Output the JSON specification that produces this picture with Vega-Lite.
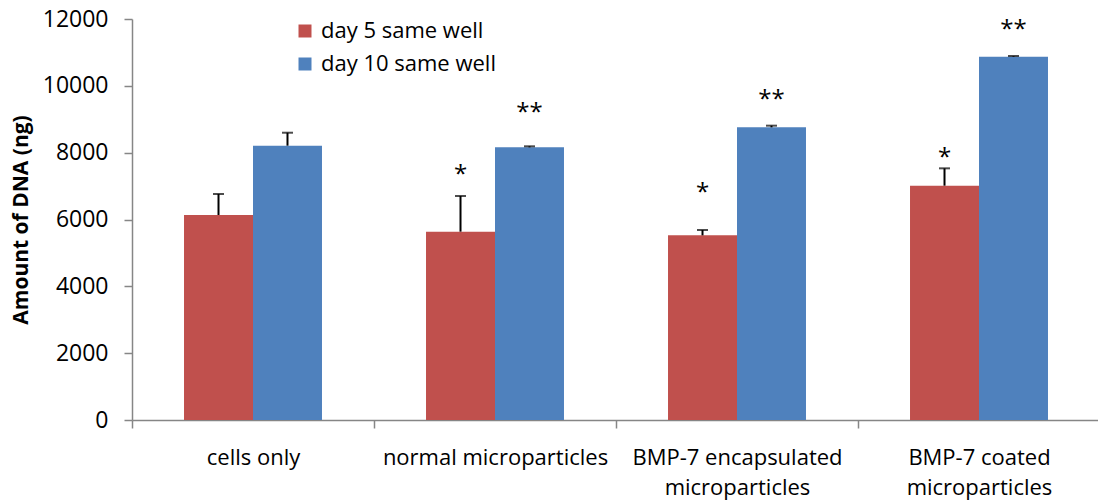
{
  "$schema": "https://vega.github.io/schema/vega-lite/v6.json",
  "width": 968,
  "height": 401,
  "autosize": "none",
  "padding": {"left": 132, "top": 19, "right": 0, "bottom": 80},
  "background": "white",
  "config": {"view": {"stroke": null}, "font": "Open Sans"},
  "data": {
    "values": [
      {"group": "cells only", "series": "day 5 same well", "value": 6135, "upper": 6763, "star": "", "starY": 0},
      {"group": "cells only", "series": "day 10 same well", "value": 8209, "upper": 8597, "star": "", "starY": 0},
      {"group": "normal microparticles", "series": "day 5 same well", "value": 5636, "upper": 6703, "star": "*", "starY": 7511},
      {"group": "normal microparticles", "series": "day 10 same well", "value": 8160, "upper": 8190, "star": "**", "starY": 9367},
      {"group": "BMP-7 encapsulated|microparticles", "series": "day 5 same well", "value": 5526, "upper": 5686, "star": "*", "starY": 6973},
      {"group": "BMP-7 encapsulated|microparticles", "series": "day 10 same well", "value": 8758, "upper": 8808, "star": "**", "starY": 9756},
      {"group": "BMP-7 coated|microparticles", "series": "day 5 same well", "value": 7012, "upper": 7531, "star": "*", "starY": 8020},
      {"group": "BMP-7 coated|microparticles", "series": "day 10 same well", "value": 10873, "upper": 10893, "star": "**", "starY": 11850}
    ]
  },
  "encoding": {
    "x": {
      "field": "group",
      "type": "nominal",
      "sort": ["cells only", "normal microparticles", "BMP-7 encapsulated|microparticles", "BMP-7 coated|microparticles"],
      "scale": {"paddingInner": 0, "paddingOuter": 0},
      "axis": {
        "title": null,
        "labelAngle": 0,
        "labelExpr": "split(datum.label, '|')",
        "labelFont": "Open Sans",
        "labelFontSize": 22,
        "labelLineHeight": 30,
        "labelColor": "#000000",
        "labelPadding": 19,
        "labelLimit": 400,
        "labelOverlap": false,
        "labelBound": false,
        "tickBand": "extent",
        "tickSize": 8,
        "tickColor": "#868686",
        "domainColor": "#868686",
        "domainWidth": 1.5,
        "tickWidth": 1.5,
        "grid": false
      }
    },
    "xOffset": {
      "field": "series",
      "type": "nominal",
      "sort": ["day 5 same well", "day 10 same well"],
      "scale": {"paddingInner": 0, "paddingOuter": 0.754}
    }
  },
  "layer": [
    {
      "mark": {"type": "bar"},
      "encoding": {
        "y": {
          "field": "value",
          "type": "quantitative",
          "scale": {"domain": [0, 12000], "nice": false},
          "axis": {
            "title": "Amount of DNA (ng)",
            "titleFont": "Open Sans",
            "titleFontSize": 21,
            "titleFontWeight": "bold",
            "titleColor": "#000000",
            "titlePadding": 11,
            "values": [0, 2000, 4000, 6000, 8000, 10000, 12000],
            "format": "d",
            "labelFont": "Open Sans",
            "labelFontSize": 23,
            "labelColor": "#000000",
            "labelPadding": 16,
            "tickSize": 8,
            "tickColor": "#868686",
            "domainColor": "#868686",
            "domainWidth": 1.5,
            "tickWidth": 1.5,
            "grid": false
          }
        },
        "color": {
          "field": "series",
          "type": "nominal",
          "scale": {"domain": ["day 5 same well", "day 10 same well"], "range": ["#C0504D", "#4F81BD"]},
          "legend": {
            "title": null,
            "orient": "none",
            "legendX": 162,
            "legendY": 1,
            "symbolType": "square",
            "symbolSize": 169,
            "symbolStrokeWidth": 0,
            "labelFont": "Open Sans",
            "labelFontSize": 22,
            "labelColor": "#000000",
            "labelOffset": 5,
            "labelLimit": 400,
            "rowPadding": 11
          }
        }
      }
    },
    {
      "mark": {"type": "rule", "color": "#000000", "strokeWidth": 2},
      "encoding": {
        "y": {"field": "value", "type": "quantitative"},
        "y2": {"field": "upper"}
      }
    },
    {
      "mark": {"type": "tick", "color": "#000000", "thickness": 2, "size": 11, "orient": "horizontal"},
      "encoding": {
        "y": {"field": "upper", "type": "quantitative"}
      }
    },
    {
      "transform": [{"filter": "datum.star != ''"}],
      "mark": {"type": "text", "font": "Open Sans", "fontSize": 24, "color": "#000000", "baseline": "middle", "dy": 6},
      "encoding": {
        "y": {"field": "starY", "type": "quantitative"},
        "text": {"field": "star"}
      }
    }
  ]
}
